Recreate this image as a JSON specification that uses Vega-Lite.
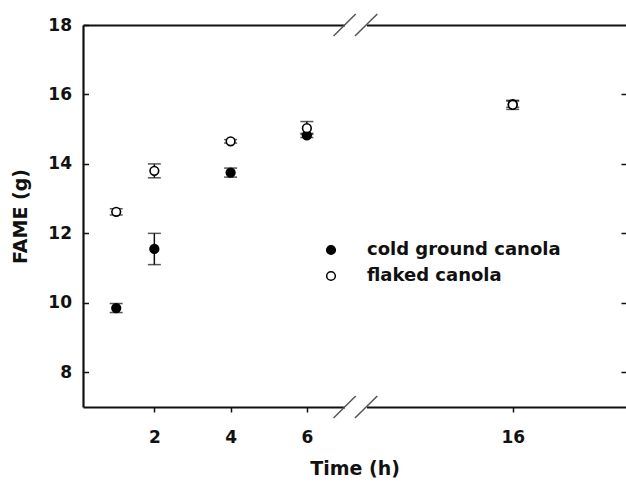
{
  "$schema": "https://vega.github.io/schema/vega-lite/v6.json",
  "width": 543,
  "height": 382,
  "autosize": {"type": "none"},
  "padding": {"left": 83, "top": 25, "right": 0, "bottom": 75},
  "background": "white",
  "config": {
    "view": {"stroke": null},
    "font": "DejaVu Sans",
    "axis": {
      "grid": false,
      "labelFont": "DejaVu Sans",
      "labelFontWeight": "bold",
      "labelFontSize": 17,
      "labelColor": "#111",
      "titleFont": "DejaVu Sans",
      "titleFontWeight": "bold",
      "titleFontSize": 19,
      "titleColor": "#111",
      "domainColor": "#111",
      "domainWidth": 2.2,
      "tickColor": "#111",
      "tickWidth": 1.5
    }
  },
  "datasets": {
    "fame": [
      {"time": 1, "series": "cold ground canola", "mean": 9.85, "lo": 9.72, "hi": 9.98},
      {"time": 2, "series": "cold ground canola", "mean": 11.55, "lo": 11.1, "hi": 12.0},
      {"time": 4, "series": "cold ground canola", "mean": 13.75, "lo": 13.62, "hi": 13.88},
      {"time": 6, "series": "cold ground canola", "mean": 14.82, "lo": 14.76, "hi": 14.88},
      {"time": 16, "series": "cold ground canola", "mean": 15.72, "lo": 15.63, "hi": 15.81},
      {"time": 1, "series": "flaked canola", "mean": 12.62, "lo": 12.53, "hi": 12.71},
      {"time": 2, "series": "flaked canola", "mean": 13.8, "lo": 13.6, "hi": 14.0},
      {"time": 4, "series": "flaked canola", "mean": 14.65, "lo": 14.6, "hi": 14.7},
      {"time": 6, "series": "flaked canola", "mean": 15.03, "lo": 14.85, "hi": 15.22},
      {"time": 16, "series": "flaked canola", "mean": 15.7, "lo": 15.57, "hi": 15.83}
    ],
    "gaps": [
      {"x1": 7.0, "x2": 12.18, "y1": 17.9, "y2": 18.1},
      {"x1": 7.0, "x2": 12.18, "y1": 6.9, "y2": 7.1}
    ],
    "slashes": [
      {"x1": 6.7, "x2": 9.52, "y1": 17.683, "y2": 18.317},
      {"x1": 9.35, "x2": 12.45, "y1": 17.683, "y2": 18.317},
      {"x1": 6.7, "x2": 9.52, "y1": 6.683, "y2": 7.317},
      {"x1": 9.35, "x2": 12.45, "y1": 6.683, "y2": 7.317}
    ]
  },
  "resolve": {"axis": {"x": "independent", "y": "independent"}},
  "layer": [
    {
      "data": {"name": "fame"},
      "mark": {"type": "rule", "color": "#111", "strokeWidth": 1.5},
      "encoding": {
        "x": {"field": "time", "type": "quantitative",
          "scale": {"domain": [0.129, 7.0, 12.18, 18.97], "range": [0, 262, 284, 543], "nice": false, "zero": false},
          "axis": {"orient": "bottom", "title": "Time (h)", "values": [2, 4, 6, 16], "tickSize": 5, "labelPadding": 17, "titlePadding": 14}},
        "y": {"field": "lo", "type": "quantitative",
          "scale": {"domain": [7, 18], "nice": false, "zero": false},
          "axis": {"orient": "left", "title": "FAME (g)", "values": [8, 10, 12, 14, 16, 18], "tickSize": -5.5, "labelPadding": 17, "titlePadding": 17}},
        "y2": {"field": "hi"}
      }
    },
    {
      "data": {"name": "fame"},
      "mark": {"type": "tick", "orient": "horizontal", "color": "#111", "size": 13, "thickness": 1.5},
      "encoding": {
        "x": {"field": "time", "type": "quantitative",
          "scale": {"domain": [0.129, 7.0, 12.18, 18.97], "range": [0, 262, 284, 543], "nice": false, "zero": false},
          "axis": {"orient": "top", "title": null, "labels": false, "ticks": false}},
        "y": {"field": "lo", "type": "quantitative",
          "scale": {"domain": [7, 18], "nice": false, "zero": false},
          "axis": {"orient": "right", "title": null, "labels": false, "domain": false, "values": [8, 10, 12, 14, 16], "tickSize": -5}}
      }
    },
    {
      "data": {"name": "fame"},
      "mark": {"type": "tick", "orient": "horizontal", "color": "#111", "size": 13, "thickness": 1.5},
      "encoding": {
        "x": {"field": "time", "type": "quantitative",
          "scale": {"domain": [0.129, 7.0, 12.18, 18.97], "range": [0, 262, 284, 543], "nice": false, "zero": false}, "axis": null},
        "y": {"field": "hi", "type": "quantitative",
          "scale": {"domain": [7, 18], "nice": false, "zero": false}, "axis": null}
      }
    },
    {
      "data": {"name": "fame"},
      "mark": {"type": "point", "shape": "circle", "filled": true, "size": 75, "stroke": "#000", "strokeWidth": 1.6, "opacity": 1},
      "encoding": {
        "x": {"field": "time", "type": "quantitative",
          "scale": {"domain": [0.129, 7.0, 12.18, 18.97], "range": [0, 262, 284, 543], "nice": false, "zero": false}, "axis": null},
        "y": {"field": "mean", "type": "quantitative",
          "scale": {"domain": [7, 18], "nice": false, "zero": false}, "axis": null},
        "fill": {"field": "series", "type": "nominal",
          "scale": {"domain": ["cold ground canola", "flaked canola"], "range": ["#000000", "#ffffff"]},
          "legend": {"orient": "none", "legendX": 239, "legendY": 216, "title": null, "padding": 0,
            "symbolType": "circle", "symbolSize": 75, "symbolStrokeColor": "#000", "symbolStrokeWidth": 1.5,
            "labelFont": "DejaVu Sans", "labelFontSize": 18, "labelFontWeight": "bold", "labelColor": "#111",
            "labelLimit": 400, "labelOffset": 27, "rowPadding": 8}}
      }
    },
    {
      "data": {"name": "gaps"},
      "mark": {"type": "rect", "fill": "white", "clip": false},
      "encoding": {
        "x": {"field": "x1", "type": "quantitative",
          "scale": {"domain": [0.129, 7.0, 12.18, 18.97], "range": [0, 262, 284, 543], "nice": false, "zero": false}, "axis": null},
        "x2": {"field": "x2"},
        "y": {"field": "y1", "type": "quantitative",
          "scale": {"domain": [7, 18], "nice": false, "zero": false}, "axis": null},
        "y2": {"field": "y2"}
      }
    },
    {
      "data": {"name": "slashes"},
      "mark": {"type": "rule", "color": "#555", "strokeWidth": 1.5, "clip": false},
      "encoding": {
        "x": {"field": "x1", "type": "quantitative",
          "scale": {"domain": [0.129, 7.0, 12.18, 18.97], "range": [0, 262, 284, 543], "nice": false, "zero": false}, "axis": null},
        "x2": {"field": "x2"},
        "y": {"field": "y1", "type": "quantitative",
          "scale": {"domain": [7, 18], "nice": false, "zero": false}, "axis": null},
        "y2": {"field": "y2"}
      }
    }
  ]
}
